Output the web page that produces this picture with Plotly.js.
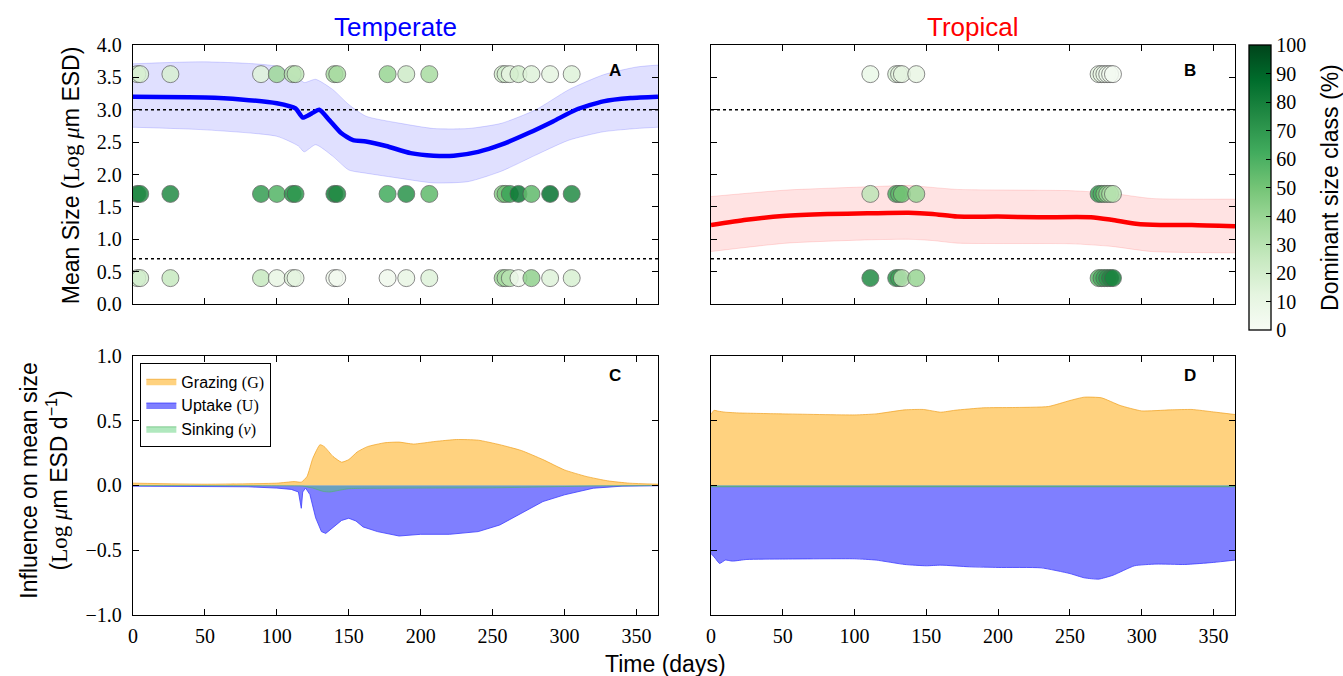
<!DOCTYPE html>
<html><head><meta charset="utf-8">
<script src="https://cdn.plot.ly/plotly-3.0.1.min.js"></script>
<style>body{margin:0;padding:0;background:#fff}#chart{width:1343px;height:676px}</style>
</head><body><div id="chart"></div>
<script>
// ---------- DATA ----------
const xTicks = [0, 50, 100, 150, 200, 250, 300, 350];
const xSpan = [0, 365];
const thresholds = [0.7, 3.0];
const classY = [0.4, 1.7, 3.55]; // pico, nano, micro rows

// Panel A - temperate mean size
const tempMeanDays = [0,50,75,100,113,118,124,129.5,136.5,144.7,153,162,176,193,209,223,240,256,275,292,308,327,346,365];
const tempMean     = [3.20,3.19,3.16,3.10,3.02,2.88,2.94,3.00,2.84,2.64,2.53,2.51,2.44,2.33,2.29,2.29,2.35,2.46,2.64,2.82,3.00,3.13,3.18,3.20];
const tempBandDays = [0,50,100,115,119,127,139,150,162,186,209,233,256,280,303,327,350,365];
const tempUpper    = [3.71,3.74,3.67,3.49,3.42,3.47,3.31,3.08,2.90,2.79,2.71,2.71,2.79,3.00,3.31,3.54,3.66,3.69];
const tempLower    = [2.73,2.69,2.59,2.44,2.35,2.46,2.28,2.07,2.02,1.94,1.87,1.89,2.05,2.30,2.53,2.66,2.71,2.73];

// Panel A - sample circles (% of dominant size class)
const tempDays  = [3,5,26,89,100,111,113,140,142,177,190,206,257,259,262,268,277,290,305];
const tempPico  = [20,20,25,25,10,15,12,5,3,5,10,15,38,35,30,5,42,15,18];
const tempNano  = [78,75,75,68,58,72,70,80,75,62,72,55,45,50,65,82,55,85,75];
const tempMicro = [18,18,18,15,38,30,28,35,35,40,22,35,20,20,12,20,15,12,15];

// Panel B - tropical mean size
const tropMeanDays = [0,24.6,50,81,109,137.6,154.5,171.5,200,228,264.7,279,296,313,335,365];
const tropMean     = [1.22,1.30,1.36,1.39,1.40,1.41,1.39,1.35,1.35,1.34,1.34,1.30,1.24,1.22,1.22,1.20];
const tropBandDays = [0,52.8,109,137.6,154.5,171.5,250.6,279,307,365];
const tropUpper    = [1.66,1.76,1.81,1.83,1.80,1.77,1.75,1.71,1.63,1.62];
const tropLower    = [0.81,0.94,0.99,1.00,0.98,0.94,0.93,0.89,0.81,0.79];

// Panel B - sample circles
const tropDays  = [111,129,131,133,143,270,272,274,276,278,280];
const tropPico  = [75,72,65,30,40,55,60,65,70,75,78];
const tropNano  = [28,60,55,50,40,65,60,50,40,35,30];
const tropMicro = [8,15,12,12,10,12,10,8,6,4,2];

// Panel C - temperate influences
const cGrazDays = [0,50,100,112,117,121,125,130,133,139,145,150,156,163,175,185,195,210,225,240,255,270,285,300,315,330,345,365];
const cGraz     = [0.018,0.010,0.018,0.030,0.026,0.07,0.21,0.315,0.30,0.225,0.18,0.20,0.26,0.30,0.33,0.335,0.32,0.34,0.355,0.35,0.315,0.27,0.20,0.12,0.07,0.036,0.018,0.01];
const cUptDays  = [0,50,80,100,110,115,117,118,120,123,127,131,134,137,140,145,150,155,160,170,185,200,220,240,255,270,285,300,320,340,365];
const cUpt      = [-0.005,-0.005,-0.01,-0.02,-0.03,-0.05,-0.176,-0.05,-0.02,-0.07,-0.25,-0.356,-0.37,-0.343,-0.318,-0.27,-0.253,-0.274,-0.32,-0.356,-0.39,-0.377,-0.377,-0.356,-0.305,-0.215,-0.124,-0.072,-0.021,-0.005,-0.002];
const cSinkDays = [0,100,118,125,132,137,142,150,160,200,250,280,300,320,365];
const cSink     = [0,-0.002,-0.005,-0.02,-0.045,-0.05,-0.04,-0.025,-0.022,-0.02,-0.018,-0.012,-0.008,-0.004,0];

// Panel D - tropical influences
const dGrazDays = [0,2,5,10,20,50,100,115,135,148,160,170,190,210,235,250,260,272,285,300,320,335,350,365];
const dGraz     = [0.548,0.58,0.574,0.566,0.56,0.553,0.545,0.553,0.584,0.587,0.566,0.581,0.60,0.602,0.61,0.656,0.682,0.677,0.618,0.576,0.584,0.587,0.568,0.548];
const dUptDays  = [0,3,6,10,15,25,50,100,115,135,150,160,180,200,230,250,260,270,280,295,310,330,350,365];
const dUpt      = [-0.525,-0.563,-0.602,-0.576,-0.584,-0.571,-0.568,-0.566,-0.576,-0.61,-0.62,-0.615,-0.628,-0.633,-0.636,-0.68,-0.713,-0.723,-0.693,-0.62,-0.607,-0.61,-0.594,-0.576];
const dSinkDays = [0,100,200,300,365];
const dSink     = [-0.008,-0.008,-0.008,-0.008,-0.008];

// ---------- STYLE ----------
const SANS = 'Liberation Sans';
const SERIF = 'Liberation Serif';
const greens = [[0,'#f7fcf5'],[0.125,'#e5f5e0'],[0.25,'#c7e9c0'],[0.375,'#a1d99b'],[0.5,'#74c476'],[0.625,'#41ab5d'],[0.75,'#238b45'],[0.875,'#006d2c'],[1,'#00441b']];
const cGrazCol = 'rgba(255,165,0,0.5)', cUptCol = 'rgba(0,0,255,0.5)', cSinkCol = 'rgba(80,205,110,0.45)';

const traces = [];
function band(days, lo, hi, col, edge, xa, ya) {
  traces.push({x: days, y: lo, xaxis: xa, yaxis: ya, type: 'scatter', mode: 'lines', line: {color: edge, width: 1, shape: 'spline', smoothing: 0.6}, showlegend: false, hoverinfo: 'skip'});
  traces.push({x: days, y: hi, xaxis: xa, yaxis: ya, type: 'scatter', mode: 'lines', fill: 'tonexty', fillcolor: col, line: {color: edge, width: 1, shape: 'spline', smoothing: 0.6}, showlegend: false, hoverinfo: 'skip'});
}
function dotted(xa, ya) {
  thresholds.forEach(t => traces.push({x: xSpan, y: xSpan.map(() => t), xaxis: xa, yaxis: ya, type: 'scatter', mode: 'lines', line: {color: 'black', width: 1.5, dash: 'dot'}, showlegend: false, hoverinfo: 'skip'}));
}
function circles(days, pcts, yv, xa, ya) {
  traces.push({x: days, y: days.map(() => yv), xaxis: xa, yaxis: ya, type: 'scatter', mode: 'markers',
    marker: {size: 17, color: pcts, coloraxis: 'coloraxis', opacity: 0.85, line: {color: '#555', width: 0.8}}, showlegend: false});
}

// Panel A
band(tempBandDays, tempLower, tempUpper, 'rgba(0,0,255,0.12)', 'rgba(0,0,255,0.15)', 'x', 'y');
dotted('x', 'y');
traces.push({x: tempMeanDays, y: tempMean, xaxis: 'x', yaxis: 'y', type: 'scatter', mode: 'lines', line: {color: '#0000ff', width: 4.5, shape: 'spline', smoothing: 0.6}, showlegend: false});
circles(tempDays, tempMicro, classY[2], 'x', 'y');
circles(tempDays, tempNano, classY[1], 'x', 'y');
circles(tempDays, tempPico, classY[0], 'x', 'y');

// Panel B
band(tropBandDays, tropLower, tropUpper, 'rgba(255,0,0,0.11)', 'rgba(255,0,0,0.12)', 'x2', 'y2');
dotted('x2', 'y2');
traces.push({x: tropMeanDays, y: tropMean, xaxis: 'x2', yaxis: 'y2', type: 'scatter', mode: 'lines', line: {color: '#ff0000', width: 4.5, shape: 'spline', smoothing: 0.6}, showlegend: false});
circles(tropDays, tropMicro, classY[2], 'x2', 'y2');
circles(tropDays, tropNano, classY[1], 'x2', 'y2');
circles(tropDays, tropPico, classY[0], 'x2', 'y2');

// Panel C
const lbl = (a, b) => a + ' <span style="font-family:' + SERIF + '">(' + b + ')</span>';
traces.push({x: cGrazDays, y: cGraz, xaxis: 'x3', yaxis: 'y3', type: 'scatter', mode: 'lines', fill: 'tozeroy', fillcolor: cGrazCol, line: {color: 'rgba(240,160,30,0.7)', width: 1, shape: 'spline', smoothing: 0.5}, name: lbl('Grazing', 'G')});
traces.push({x: cUptDays, y: cUpt, xaxis: 'x3', yaxis: 'y3', type: 'scatter', mode: 'lines', fill: 'tozeroy', fillcolor: cUptCol, line: {color: 'rgba(60,60,255,0.8)', width: 1}, name: lbl('Uptake', 'U')});
traces.push({x: cSinkDays, y: cSink, xaxis: 'x3', yaxis: 'y3', type: 'scatter', mode: 'lines', fill: 'tozeroy', fillcolor: cSinkCol, line: {color: 'rgba(80,180,100,0.6)', width: 1, shape: 'spline', smoothing: 0.5}, name: lbl('Sinking', '<i>ν</i>')});

// Panel D
traces.push({x: dGrazDays, y: dGraz, xaxis: 'x4', yaxis: 'y4', type: 'scatter', mode: 'lines', fill: 'tozeroy', fillcolor: cGrazCol, line: {color: 'rgba(240,160,30,0.7)', width: 1, shape: 'spline', smoothing: 0.5}, showlegend: false});
traces.push({x: dUptDays, y: dUpt, xaxis: 'x4', yaxis: 'y4', type: 'scatter', mode: 'lines', fill: 'tozeroy', fillcolor: cUptCol, line: {color: 'rgba(60,60,255,0.8)', width: 1, shape: 'spline', smoothing: 0.5}, showlegend: false});
traces.push({x: dSinkDays, y: dSink, xaxis: 'x4', yaxis: 'y4', type: 'scatter', mode: 'lines', fill: 'tozeroy', fillcolor: cSinkCol, line: {color: 'rgba(80,180,100,0.7)', width: 1.5}, showlegend: false});

// ---------- LAYOUT ----------
const axBase = {showline: true, linecolor: 'black', linewidth: 1.3, mirror: 'ticks', ticks: 'inside', ticklen: 6, tickwidth: 1, tickcolor: 'black',
  showgrid: false, zeroline: false, tickfont: {family: SERIF, size: 20, color: 'black'}};
const xBase = Object.assign({}, axBase, {range: xSpan, tickvals: xTicks, ticklabelstandoff: 3});
const L = [0, 0.4764], R = [0.5245, 1], TOP = [0.5456, 1], BOT = [0, 0.4544];

const layout = {
  width: 1343, height: 676,
  margin: {l: 133, r: 108, t: 45, b: 61},
  paper_bgcolor: 'white', plot_bgcolor: 'white',
  font: {family: SANS, color: 'black'},
  xaxis:  Object.assign({}, xBase, {domain: L, anchor: 'y', showticklabels: false}),
  xaxis2: Object.assign({}, xBase, {domain: R, anchor: 'y2', showticklabels: false}),
  xaxis3: Object.assign({}, xBase, {domain: L, anchor: 'y3'}),
  xaxis4: Object.assign({}, xBase, {domain: R, anchor: 'y4'}),
  yaxis:  Object.assign({}, axBase, {domain: TOP, anchor: 'x', range: [0, 4], dtick: 0.5, tickformat: '.1f', ticklabelstandoff: 6}),
  yaxis2: Object.assign({}, axBase, {domain: TOP, anchor: 'x2', range: [0, 4], dtick: 0.5, showticklabels: false}),
  yaxis3: Object.assign({}, axBase, {domain: BOT, anchor: 'x3', range: [-1, 1], dtick: 0.5, tickformat: '.1f', ticklabelstandoff: 6}),
  yaxis4: Object.assign({}, axBase, {domain: BOT, anchor: 'x4', range: [-1, 1], dtick: 0.5, showticklabels: false}),
  coloraxis: {cmin: 0, cmax: 100, colorscale: greens, showscale: true,
    colorbar: {x: 1.0127, xanchor: 'left', y: 1, yanchor: 'top', len: 285, lenmode: 'pixels', thickness: 22, thicknessmode: 'pixels',
      xpad: 0, ypad: 0, outlinewidth: 1.3, outlinecolor: 'black', ticks: 'inside', ticklen: 5, tickcolor: 'black', dtick: 10, tick0: 0,
      tickfont: {family: SERIF, size: 20, color: 'black'}}},
  showlegend: true,
  legend: {x: 0.0064, y: 0.442, xanchor: 'left', yanchor: 'top', xref: 'paper', yref: 'paper', bgcolor: 'white', bordercolor: 'black', borderwidth: 1.3,
    font: {family: SANS, size: 16, color: 'black'}, tracegroupgap: 0, itemwidth: 30, traceorder: 'normal'},
  annotations: [
    {text: 'Temperate', xref: 'paper', yref: 'paper', x: 0.2382, y: 1.0316, showarrow: false, xanchor: 'center', yanchor: 'middle', font: {family: SANS, size: 26, color: '#0000ff'}},
    {text: 'Tropical', xref: 'paper', yref: 'paper', x: 0.7622, y: 1.0316, showarrow: false, xanchor: 'center', yanchor: 'middle', font: {family: SANS, size: 26, color: '#ff0000'}},
    {text: 'Mean Size (<span style="font-family:' + SERIF + '">Log <i>μ</i></span>m ESD)', xref: 'paper', yref: 'paper', x: -0.056, y: 0.772, textangle: -90, showarrow: false, xanchor: 'center', yanchor: 'middle', font: {family: SANS, size: 23}},
    {text: 'Influence on mean size<br>(<span style="font-family:' + SERIF + '">Log <i>μ</i></span>m ESD d<sup>−1</sup>)', xref: 'paper', yref: 'paper', x: -0.081, y: 0.237, textangle: -90, showarrow: false, xanchor: 'center', yanchor: 'middle', font: {family: SANS, size: 23}},
    {text: 'Time (days)', xref: 'paper', yref: 'paper', x: 0.4828, y: -0.0855, showarrow: false, xanchor: 'center', yanchor: 'middle', font: {family: SANS, size: 23}},
    {text: 'Dominant size class (%)', xref: 'paper', yref: 'paper', x: 1.0862, y: 0.751, textangle: -90, showarrow: false, xanchor: 'center', yanchor: 'middle', font: {family: SANS, size: 23}},
    {text: '<b>A</b>', xref: 'x', yref: 'y', x: 335, y: 3.6, showarrow: false, font: {family: SANS, size: 17}},
    {text: '<b>B</b>', xref: 'x2', yref: 'y2', x: 334, y: 3.6, showarrow: false, font: {family: SANS, size: 17}},
    {text: '<b>C</b>', xref: 'x3', yref: 'y3', x: 335, y: 0.85, showarrow: false, font: {family: SANS, size: 17}},
    {text: '<b>D</b>', xref: 'x4', yref: 'y4', x: 334, y: 0.85, showarrow: false, font: {family: SANS, size: 17}}
  ]
};

Plotly.newPlot('chart', traces, layout, {staticPlot: true, displayModeBar: false});
</script></body></html>
